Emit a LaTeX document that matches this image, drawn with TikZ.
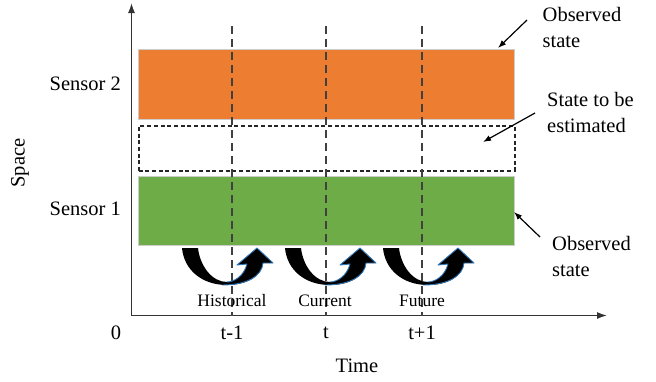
\documentclass[tikz,border=0pt]{standalone}
\usepackage{fontspec}
\setmainfont{Liberation Serif}
\usetikzlibrary{arrows.meta}
\definecolor{orangebar}{HTML}{ED7D31}
\definecolor{greenbar}{HTML}{6DAC46}
\definecolor{arrowblue}{HTML}{2E75B6}
\definecolor{axisgray}{HTML}{333333}
\tikzset{
  lbl/.style={inner sep=0pt, font=\fontsize{20.5}{26}\selectfont},
  small/.style={inner sep=0pt, font=\fontsize{17.5}{21}\selectfont},
  bar/.style={draw=gray!40, line width=0.6pt, inner sep=0pt, minimum width=376pt, anchor=north west},
  axis/.style={draw=axisgray, line width=1.4pt, -{Latex[length=10pt,width=7pt]}},
  timeline/.style={draw=black!75, line width=1.1pt, dash pattern=on 8pt off 5pt},
  note/.style={draw=black, line width=1.2pt, -{Latex[length=8pt,width=6pt]}},
  pics/bent/.style={code={
    \fill[black] (0,0) .. controls (2,22) and (20,37) .. (45,37)
      .. controls (65,37) and (80,28) .. (81,15) -- (91,15) -- (75,0) -- (55,17) -- (65,16)
      .. controls (62,28) and (52,34) .. (45,34)
      .. controls (30,34) and (18,18) .. (16,0) -- cycle;
    \draw[arrowblue, line width=0.9pt, line join=round] (40,37) .. controls (65,37) and (80,28) .. (81,15) -- (91,15) -- (75,0) -- (55,17) -- (65,16)
      .. controls (62,28) and (52,34) .. (45,34);
  }}
}
\begin{document}
\begin{tikzpicture}[x=1pt,y=-1pt]
\useasboundingbox (0,0) rectangle (656,381);
% bars
\node[bar, fill=orangebar, minimum height=70pt] (s2bar) at (138,49) {};
\node[draw=black!85, line width=2pt, dash pattern=on 4pt off 2.7pt, inner sep=0pt, minimum width=376pt, minimum height=44.5pt, anchor=north west] (estbar) at (137.5,125) {};
\node[bar, fill=greenbar, minimum height=69pt] (s1bar) at (138,176) {};
% axes
\coordinate (origin) at (131.5,315.5);
\coordinate (ytop) at (131.5,3);
\coordinate (xend) at (607,315.5);
\draw[axis] (origin) -- (ytop);
\draw[axis] (origin) -- (xend);
% time lines
\foreach \n/\x in {a/232, b/326, c/422} {
  \coordinate (top\n) at (\x,26);
  \coordinate (bot\n) at (\x,315.5);
  \draw[timeline] (top\n) -- (bot\n);
}
% bent arrows
\pic at (182,248) {bent};
\pic at (285,248) {bent};
\pic at (383,248) {bent};
% labels
\node[small] (hist) at (232,301) {Historical};
\node[small] (curr) at (325,301) {Current};
\node[small] (fut) at (422,301) {Future};
\node[lbl] (zero) at (116,333) {0};
\node[lbl] (tm1) at (232,333) {t-1};
\node[lbl] (t) at (326,333) {t};
\node[lbl] (tp1) at (422,333) {t+1};
\node[lbl] (time) at (357,366) {Time};
\node[lbl, rotate=90] (space) at (20,163) {Space};
\node[lbl, anchor=east] (sen2) at (121,84) {Sensor 2};
\node[lbl, anchor=east] (sen1) at (121,209) {Sensor 1};
\node[lbl, anchor=west, align=left] (obs1) at (542.5,27) {Observed\\state};
\node[lbl, anchor=west, align=left] (est) at (547,112) {State to be\\estimated};
\node[lbl, anchor=west, align=left] (obs2) at (552,256) {Observed\\state};
% annotation arrows
\coordinate (a1s) at (527,20);
\coordinate (a1e) at (498,48);
\coordinate (a2s) at (535,113);
\coordinate (a2e) at (483,142);
\coordinate (a3s) at (540,237);
\coordinate (a3e) at (514,212);
\draw[note] (a1s) -- (a1e);
\draw[note] (a2s) -- (a2e);
\draw[note] (a3s) -- (a3e);
\end{tikzpicture}
\end{document}
